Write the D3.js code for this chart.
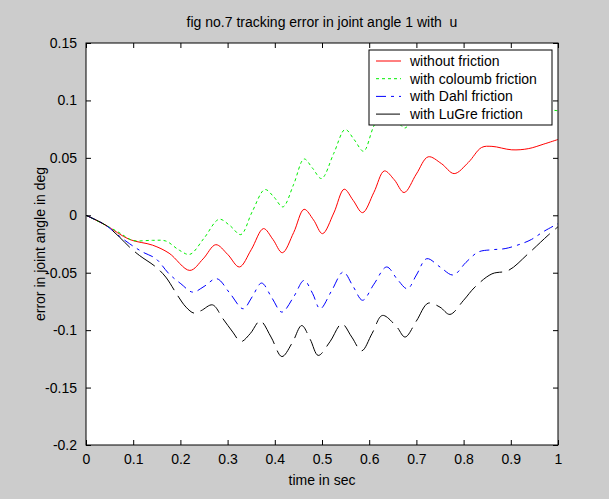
<!DOCTYPE html>
<html lang="en">
<head>
<meta charset="utf-8">
<script src="https://d3js.org/d3.v7.min.js"></script>
<style>
  body { margin: 0; background: #cccccc; }
  text { font-family: "Liberation Sans", Arial, sans-serif; white-space: pre; }
</style>
</head>
<body>
<script>
  // values (time in sec, error in deg)
  const redT = [0, 0.042, 0.092, 0.141, 0.176, 0.22, 0.248, 0.275, 0.30, 0.325, 0.35, 0.376, 0.396, 0.416, 0.44, 0.462, 0.482, 0.501, 0.525, 0.547, 0.566, 0.586, 0.61, 0.632, 0.653, 0.674, 0.70, 0.725, 0.753, 0.78, 0.81, 0.838, 0.86, 0.902, 0.937, 0.97, 1.0];
  const redV = [0, -0.0087, -0.021, -0.026, -0.033, -0.048, -0.038, -0.0256, -0.034, -0.045, -0.030, -0.0116, -0.021, -0.0326, -0.015, 0.0052, -0.004, -0.016, 0.002, 0.0227, 0.013, 0.0023, 0.020, 0.0386, 0.031, 0.0198, 0.036, 0.0509, 0.045, 0.0363, 0.046, 0.059, 0.060, 0.057, 0.058, 0.062, 0.066];

  const greenT = [0, 0.042, 0.07, 0.099, 0.141, 0.169, 0.198, 0.22, 0.25, 0.282, 0.305, 0.328, 0.352, 0.379, 0.398, 0.417, 0.44, 0.462, 0.48, 0.499, 0.525, 0.549, 0.568, 0.588, 0.609, 0.632, 0.653, 0.676, 0.70, 0.725, 0.75, 0.78, 0.81, 0.84, 0.87, 0.9, 0.95, 1.0];
  const greenV = [0, -0.0087, -0.015, -0.0218, -0.0218, -0.0224, -0.0305, -0.034, -0.020, -0.0035, -0.009, -0.0168, 0.003, 0.0224, 0.016, 0.0073, 0.027, 0.049, 0.041, 0.032, 0.054, 0.0747, 0.066, 0.0558, 0.077, 0.095, 0.086, 0.076, 0.097, 0.115, 0.108, 0.100, 0.108, 0.112, 0.108, 0.100, 0.094, 0.091];

  const blueT = [0, 0.042, 0.064, 0.092, 0.12, 0.148, 0.176, 0.201, 0.226, 0.25, 0.277, 0.305, 0.333, 0.352, 0.372, 0.394, 0.415, 0.44, 0.462, 0.48, 0.496, 0.52, 0.545, 0.566, 0.586, 0.61, 0.637, 0.66, 0.681, 0.70, 0.722, 0.75, 0.778, 0.805, 0.831, 0.86, 0.888, 0.923, 0.944, 0.97, 1.0];
  const blueV = [0, -0.0087, -0.016, -0.0247, -0.032, -0.0378, -0.051, -0.0596, -0.0669, -0.062, -0.0552, -0.068, -0.0814, -0.071, -0.059, -0.072, -0.0843, -0.071, -0.0567, -0.068, -0.0814, -0.066, -0.0494, -0.062, -0.074, -0.060, -0.045, -0.056, -0.064, -0.052, -0.0378, -0.045, -0.052, -0.041, -0.032, -0.030, -0.029, -0.0247, -0.021, -0.014, -0.0073];

  const blackT = [0, 0.042, 0.071, 0.092, 0.113, 0.148, 0.169, 0.194, 0.212, 0.229, 0.244, 0.268, 0.29, 0.311, 0.328, 0.348, 0.369, 0.392, 0.415, 0.437, 0.457, 0.475, 0.492, 0.517, 0.542, 0.563, 0.584, 0.606, 0.628, 0.658, 0.676, 0.70, 0.725, 0.75, 0.771, 0.80, 0.824, 0.86, 0.895, 0.937, 0.979, 1.0];
  const blackV = [0, -0.0087, -0.019, -0.0276, -0.0349, -0.045, -0.0538, -0.0698, -0.080, -0.0852, -0.083, -0.078, -0.090, -0.1017, -0.110, -0.103, -0.092, -0.106, -0.123, -0.111, -0.096, -0.108, -0.122, -0.110, -0.0945, -0.106, -0.118, -0.103, -0.0872, -0.097, -0.106, -0.092, -0.0765, -0.080, -0.0863, -0.074, -0.0625, -0.051, -0.048, -0.0334, -0.0174, -0.010];

  const seriesNames = ["without friction", "with coloumb friction", "with Dahl friction", "with LuGre friction"];
  const xTicks = [0, 0.1, 0.2, 0.3, 0.4, 0.5, 0.6, 0.7, 0.8, 0.9, 1];
  const yTicks = [-0.2, -0.15, -0.1, -0.05, 0, 0.05, 0.1, 0.15];

  const width = 609, height = 499;
  const axL = 86, axR = 558, axT = 43, axB = 445;
  const fs = "14px";

  const series = [
    {name: seriesNames[0], t: redT, v: redV, color: "#ff0000", dash: null},
    {name: seriesNames[1], t: greenT, v: greenV, color: "#00ee00", dash: "3,3"},
    {name: seriesNames[2], t: blueT, v: blueV, color: "#0000ff", dash: "10,5,3,5"},
    {name: seriesNames[3], t: blackT, v: blackV, color: "#000000", dash: "24,7"}
  ];

  const svg = d3.select("body").append("svg")
    .attr("width", width)
    .attr("height", height);

  svg.append("rect")
    .attr("width", width).attr("height", height)
    .attr("fill", "#cccccc");

  const x = d3.scaleLinear().domain([0, 1]).range([axL, axR]);
  const y = d3.scaleLinear().domain([-0.2, 0.15]).range([axB, axT]);

  svg.append("rect")
    .attr("x", axL).attr("y", axT)
    .attr("width", axR - axL).attr("height", axB - axT)
    .attr("fill", "#ffffff");

  const line = d3.line()
    .x(d => x(d[0]))
    .y(d => y(d[1]))
    .curve(d3.curveCatmullRom.alpha(0.5));

  series.forEach(function(s) {
    const pts = s.t.map((t, i) => [t, s.v[i]]);
    svg.append("path")
      .datum(pts)
      .attr("fill", "none")
      .attr("stroke", s.color)
      .attr("stroke-width", 1)
      .attr("stroke-dasharray", s.dash)
      .attr("d", line);
  });

  // axes, MATLAB style: ticks inward on all four sides
  const fmt = d => String(d);
  const gx = svg.append("g")
    .attr("transform", "translate(0," + axB + ")")
    .call(d3.axisBottom(x).tickValues(xTicks).tickFormat(fmt).tickSizeInner(-5).tickSizeOuter(0).tickPadding(9));
  const gxt = svg.append("g")
    .attr("transform", "translate(0," + axT + ")")
    .call(d3.axisTop(x).tickValues(xTicks).tickFormat("").tickSizeInner(-5).tickSizeOuter(0));
  const gy = svg.append("g")
    .attr("transform", "translate(" + axL + ",0)")
    .call(d3.axisLeft(y).tickValues(yTicks).tickFormat(fmt).tickSizeInner(-5).tickSizeOuter(0).tickPadding(9));
  const gyr = svg.append("g")
    .attr("transform", "translate(" + axR + ",0)")
    .call(d3.axisRight(y).tickValues(yTicks).tickFormat("").tickSizeInner(-5).tickSizeOuter(0));

  [gx, gxt, gy, gyr].forEach(function(g) {
    g.selectAll("text").attr("font-size", fs).attr("fill", "#000")
      .attr("font-family", "Liberation Sans, Arial, sans-serif");
    g.selectAll("line").attr("stroke", "#000");
    g.select(".domain").remove();
  });

  svg.append("rect")
    .attr("x", axL).attr("y", axT)
    .attr("width", axR - axL).attr("height", axB - axT)
    .attr("fill", "none")
    .attr("stroke", "#000");

  // legend
  const lg = svg.append("g").attr("transform", "translate(369,50)");
  lg.append("rect")
    .attr("width", 183).attr("height", 75)
    .attr("fill", "#ffffff").attr("stroke", "#000");
  series.forEach(function(s, i) {
    const yy = 11 + i * 17.7;
    lg.append("line")
      .attr("x1", 7).attr("x2", 32)
      .attr("y1", yy).attr("y2", yy)
      .attr("stroke", s.color)
      .attr("stroke-dasharray", s.dash);
    lg.append("text")
      .attr("x", 41).attr("y", yy + 5)
      .attr("font-size", fs)
      .text(s.name);
  });

  svg.append("text")
    .attr("x", (axL + axR) / 2).attr("y", 27)
    .attr("text-anchor", "middle")
    .attr("font-size", fs)
    .text("fig no.7 tracking error in joint angle 1 with  u");

  svg.append("text")
    .attr("x", (axL + axR) / 2).attr("y", 485)
    .attr("text-anchor", "middle")
    .attr("font-size", fs)
    .text("time in sec");

  svg.append("text")
    .attr("transform", "translate(45," + ((axT + axB) / 2) + ") rotate(-90)")
    .attr("text-anchor", "middle")
    .attr("font-size", fs)
    .text("error in joint angle in deg");
</script>
</body>
</html>
